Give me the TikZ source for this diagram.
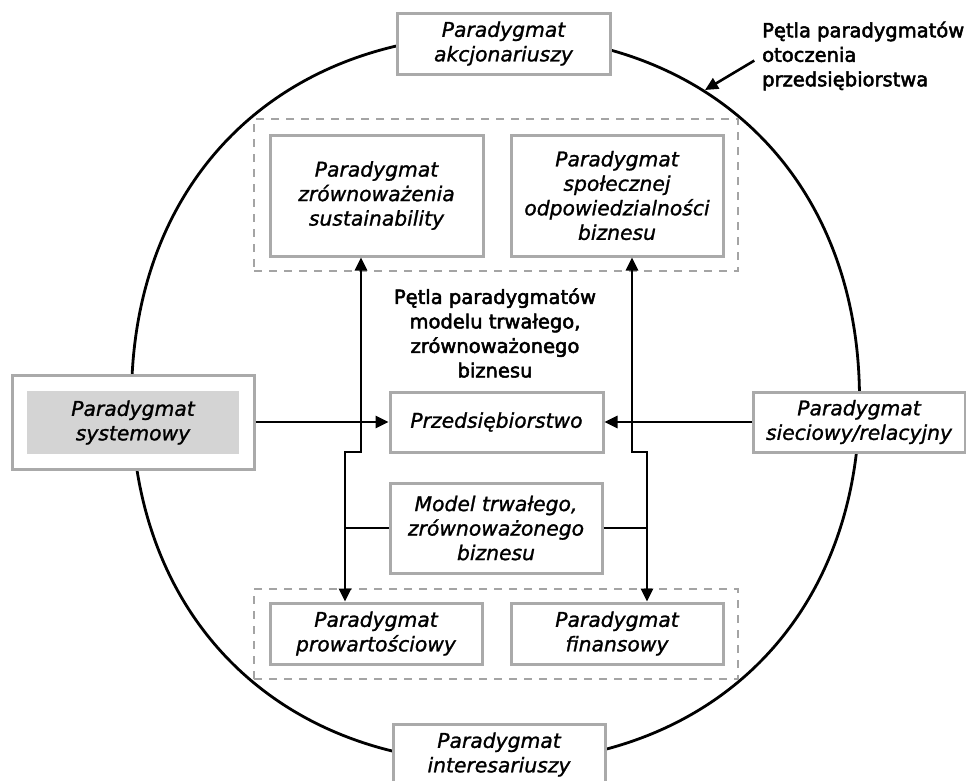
\documentclass[tikz,border=0pt]{standalone}
\usepackage{fontspec}
\setmainfont{DejaVu Sans}
\newfontfamily\lblfont[FakeBold=2.6]{DejaVu Sans}
\newfontfamily\boxfont[FakeBold=1.2]{DejaVu Sans}
\usetikzlibrary{arrows.meta}
\definecolor{boxgray}{HTML}{AAAAAA}
\definecolor{dashgray}{HTML}{A4A4A4}
\definecolor{fillgray}{HTML}{D4D4D4}
\begin{document}
\begin{tikzpicture}[x=1pt,y=-1pt,
  pbox/.style={draw=boxgray, line width=3pt, fill=white, align=center, inner sep=0pt,
    font=\boxfont\itshape\fontsize{20.3}{24.5}\selectfont},
  dbox/.style={draw=dashgray, line width=2.2pt, dash pattern=on 8pt off 7pt, inner sep=0pt},
  lbl/.style={align=center, inner sep=0pt, font=\lblfont\fontsize{19.5}{24.5}\selectfont},
  conn/.style={line width=2.6pt},
  arr/.style={line width=2.6pt, -{Triangle[length=13pt,width=12pt]}},
  arrr/.style={line width=2.6pt, {Triangle[length=13pt,width=12pt]}-{Triangle[length=13pt,width=12pt]}}
]
\useasboundingbox (0,0) rectangle (966,780);
% outer loop
\draw[line width=2.8pt] (859.5,399) .. controls (859.5,181) and (713.5,35) .. (495.5,35)
  .. controls (277.5,35) and (131.5,181) .. (131.5,399)
  .. controls (131.5,617) and (277.5,763) .. (495.5,763)
  .. controls (713.5,763) and (859.5,617) .. (859.5,399) -- cycle;
% dashed groups
\node[dbox, minimum width=484pt, minimum height=152pt] (dtop) at (496,195) {};
\node[dbox, minimum width=484pt, minimum height=90pt] (dbot) at (496,634) {};
% boxes
\node[pbox, minimum width=213pt, minimum height=61pt] (akc) at (503.5,43.5) {Paradygmat\\akcjonariuszy};
\node[pbox, minimum width=212pt, minimum height=61pt] (inter) at (499,754.5) {Paradygmat\\interesariuszy};
\node[pbox, minimum width=242pt, minimum height=94pt] (sys) at (133,422) {};
\node[pbox, draw=none, fill=fillgray, minimum width=212pt, minimum height=63pt] (sysin) at (133,422.5) {Paradygmat\\systemowy};
\node[pbox, minimum width=212pt, minimum height=60pt] (siec) at (859,422) {Paradygmat\\sieciowy/relacyjny};
\node[pbox, minimum width=213pt, minimum height=60pt] (przed) at (496.5,422) {Przedsiębiorstwo};
\node[pbox, minimum width=212pt, minimum height=90pt] (model) at (496,528) {Model trwałego,\\zrównoważonego\\biznesu};
\node[pbox, minimum width=213pt, minimum height=121pt] (sust) at (376.5,195.5) {Paradygmat\\zrównoważenia\\sustainability};
\node[pbox, minimum width=212pt, minimum height=121pt] (csr) at (617,195.5) {Paradygmat\\społecznej\\odpowiedzialności\\biznesu};
\node[pbox, minimum width=212pt, minimum height=61pt] (prow) at (376,633.5) {Paradygmat\\prowartościowy};
\node[pbox, minimum width=212pt, minimum height=61pt] (fin) at (617,633.5) {Paradygmat\\finansowy};
% labels
\node[lbl] (inLoop) at (495,333) {Pętla paradygmatów\\modelu trwałego,\\zrównoważonego\\biznesu};
\node[lbl, align=left, anchor=west] (outLoop) at (762,56) {Pętla paradygmatów\\otoczenia\\przedsiębiorstwa};
% connectors
\coordinate (aT) at (705,90);
\draw[arr, shorten <=9pt] (outLoop.west) -- (aT);
\draw[arr] (sys.east) -- (przed.west);
\draw[arr] (siec.west) -- (przed.east);
\coordinate (jl1) at (361,452);
\coordinate (jl2) at (345,452);
\coordinate (jr1) at (632,452);
\coordinate (jr2) at (647,452);
\draw[arrr] (jl1 |- sust.south) -- (jl1) -- (jl2) -- (jl2 |- prow.north);
\draw[arrr] (jr1 |- csr.south) -- (jr1) -- (jr2) -- (jr2 |- fin.north);
\draw[conn] (model.west) -- (jl2 |- model.west);
\draw[conn] (model.east) -- (jr2 |- model.east);
\end{tikzpicture}
\end{document}
